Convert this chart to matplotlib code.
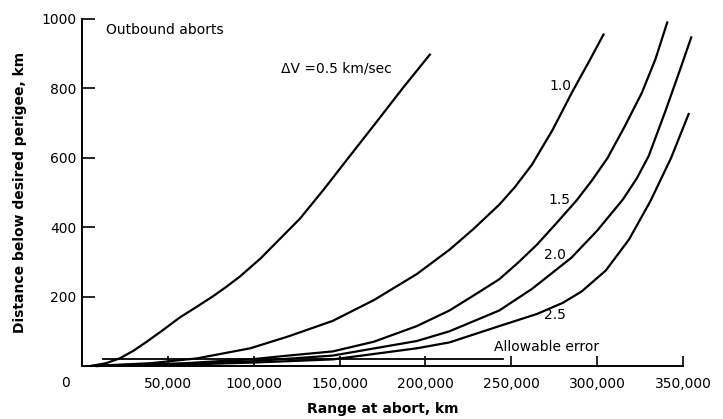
import matplotlib
matplotlib.use('Agg')
import matplotlib.pyplot as plt

# curves: range at abort (km) vs distance below desired perigee (km)
dv_labels = ['0.5', '1.0', '1.5', '2.0', '2.5']

x_05 = [5000, 14000, 22000, 30000, 38000, 47000, 57000, 66000, 76000, 84000, 92000,
        104000, 115000, 127000, 141000, 155000, 171000, 187000, 203000]
y_05 = [0, 8, 22, 44, 71, 103, 140, 168, 200, 228, 258,
        310, 365, 425, 510, 599, 700, 802, 900]

x_10 = [5000, 40000, 67000, 98000, 120000, 146000, 170000, 195000, 214000, 228000,
        243000, 252000, 262000, 274000, 285500, 295000, 304000]
y_10 = [0, 8, 22, 51, 85, 130, 190, 265, 335, 395,
        465, 515, 580, 680, 790, 875, 958]

x_15 = [8000, 60000, 100000, 120000, 146000, 170000, 195000, 214000, 228000, 243000,
        254000, 265000, 276000, 288000, 297000, 306000, 316000, 326000, 334000, 341000]
y_15 = [0, 8, 20, 30, 42, 70, 115, 160, 203, 250,
        298, 350, 410, 477, 535, 599, 690, 787, 885, 993]

x_20 = [8000, 60000, 100000, 146000, 195000, 214000, 243000, 262000, 285000, 300000,
        315000, 323000, 330000, 340000, 348000, 355000]
y_20 = [0, 6, 14, 30, 72, 100, 160, 222, 312, 390,
        480, 540, 605, 738, 850, 950]

x_25 = [8000, 60000, 100000, 146000, 195000, 214000, 243000, 265000, 280000, 291000,
        305000, 318600, 331000, 343000, 353500]
y_25 = [0, 4, 10, 19, 51, 68, 115, 150, 182, 215,
        275, 365, 475, 599, 729]

allow_x = [12000, 245000]
allow_y = [20, 20]

x_ticks = [50000, 100000, 150000, 200000, 250000, 300000, 350000]
x_tick_labels = ['50,000', '100,000', '150,000', '200,000', '250,000', '300,000', '350,000']
y_ticks = [200, 400, 600, 800, 1000]


def main():
    plt.rcParams['font.family'] = ['DejaVu Sans']
    fig = plt.figure(figsize=(7.23, 4.19), dpi=100)
    ax = fig.add_axes([0.1134, 0.1265, 0.8313, 0.8282])

    curves = [(x_05, y_05), (x_10, y_10), (x_15, y_15), (x_20, y_20), (x_25, y_25)]
    for xs, ys in curves:
        ax.plot(xs, ys, color='black', lw=1.6, clip_on=False,
                solid_capstyle='butt', solid_joinstyle='round')
    ax.plot(allow_x, allow_y, color='black', lw=1.3, clip_on=False)

    ax.set_xlim(0, 350000)
    ax.set_ylim(0, 1000)
    for s in ['top', 'right']:
        ax.spines[s].set_visible(False)
    for s in ['left', 'bottom']:
        ax.spines[s].set_linewidth(1.4)

    ax.set_xticks(x_ticks)
    ax.set_xticklabels(x_tick_labels)
    ax.set_yticks(y_ticks)
    ax.tick_params(axis='x', direction='in', length=7, width=1.2, pad=8, labelsize=10)
    ax.tick_params(axis='y', direction='in', length=9.5, width=1.2, pad=4, labelsize=10)
    ax.annotate('0', xy=(0, 0), xytext=(-12, -12), textcoords='offset points',
                ha='center', va='center', fontsize=10)

    ax.set_xlabel('Range at abort, km', fontsize=10, fontweight='bold', labelpad=8)
    ax.set_ylabel('Distance below desired perigee, km', fontsize=10, fontweight='bold', labelpad=10)

    ax.text(14000, 968, 'Outbound aborts', fontsize=10, ha='left', va='center')
    ax.text(116000, 857, '\u0394V =0.5 km/sec', fontsize=10, ha='left', va='center')
    ax.text(278500, 808, dv_labels[1], fontsize=10, ha='center', va='center')
    ax.text(277900, 477, dv_labels[2], fontsize=10, ha='center', va='center')
    ax.text(275600, 320, dv_labels[3], fontsize=10, ha='center', va='center')
    ax.text(275600, 146, dv_labels[4], fontsize=10, ha='center', va='center')
    ax.text(240000, 54, 'Allowable error', fontsize=10, ha='left', va='center')

    fig.savefig('out.png', dpi=100)
    plt.close(fig)


if __name__ == '__main__':
    main()
